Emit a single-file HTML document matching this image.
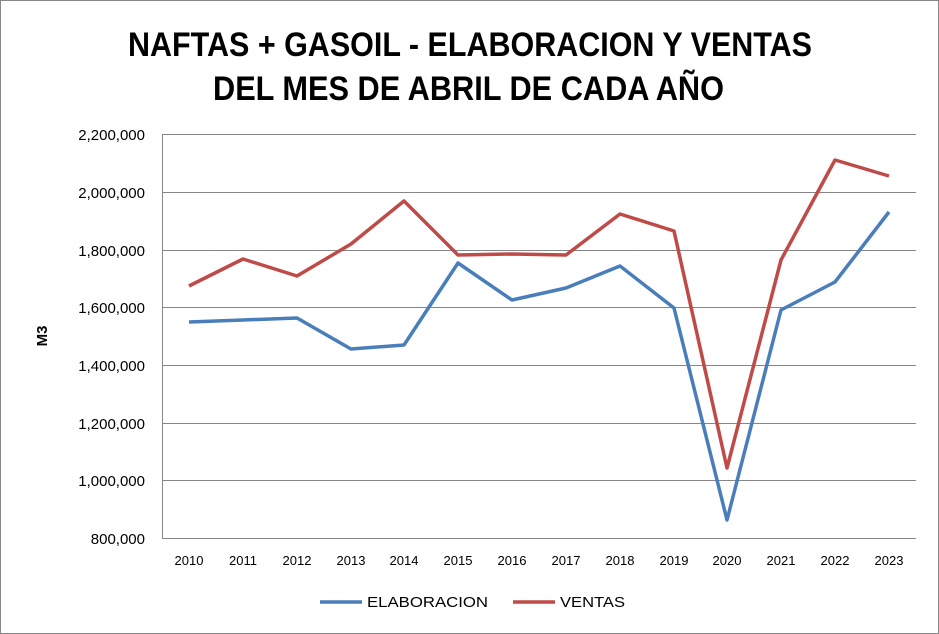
<!DOCTYPE html>
<html><head><meta charset="utf-8"><style>
body{margin:0;background:#fff}
svg{display:block;font-family:"Liberation Sans",sans-serif}
</style></head><body>
<svg width="939" height="634" viewBox="0 0 939 634">
<rect x="0.5" y="0.5" width="938" height="633" fill="#fff" stroke="#878787"/>
<text x="128" y="56" font-size="34" font-weight="bold" textLength="684" lengthAdjust="spacingAndGlyphs">NAFTAS + GASOIL - ELABORACION Y VENTAS</text>
<text x="213" y="100" font-size="34" font-weight="bold" textLength="511" lengthAdjust="spacingAndGlyphs">DEL MES DE ABRIL DE CADA AÑO</text>
<g stroke="#868686" stroke-width="1">
<line x1="162" y1="134.5" x2="916" y2="134.5"/>
<line x1="162" y1="192.5" x2="916" y2="192.5"/>
<line x1="162" y1="250.5" x2="916" y2="250.5"/>
<line x1="162" y1="307.5" x2="916" y2="307.5"/>
<line x1="162" y1="365.5" x2="916" y2="365.5"/>
<line x1="162" y1="423.5" x2="916" y2="423.5"/>
<line x1="162" y1="480.5" x2="916" y2="480.5"/>
<line x1="162" y1="538.5" x2="916" y2="538.5"/>
<line x1="162.5" y1="134" x2="162.5" y2="538"/>
</g>
<g font-size="15" text-anchor="end">
<text x="145" y="140">2,200,000</text>
<text x="145" y="198">2,000,000</text>
<text x="145" y="256">1,800,000</text>
<text x="145" y="313">1,600,000</text>
<text x="145" y="371">1,400,000</text>
<text x="145" y="429">1,200,000</text>
<text x="145" y="486">1,000,000</text>
<text x="145" y="544">800,000</text>
</g>
<text transform="translate(47,336) rotate(-90)" text-anchor="middle" font-size="15" font-weight="bold">M3</text>
<g font-size="13" text-anchor="middle">
<text x="189" y="565">2010</text><text x="243" y="565">2011</text><text x="297" y="565">2012</text><text x="351" y="565">2013</text><text x="404" y="565">2014</text><text x="458" y="565">2015</text><text x="512" y="565">2016</text><text x="566" y="565">2017</text><text x="620" y="565">2018</text><text x="674" y="565">2019</text><text x="727" y="565">2020</text><text x="781" y="565">2021</text><text x="835" y="565">2022</text><text x="889" y="565">2023</text>
</g>
<polyline fill="none" stroke="#4a7ebb" stroke-width="3.5" stroke-linejoin="round" points="189,322 243,320 297,318 351,349 404,345 458,263 512,300 566,288 620,266 674,308 727,520 781,310 835,282 889,212"/>
<polyline fill="none" stroke="#be4b48" stroke-width="3.5" stroke-linejoin="round" points="189,286 243,259 297,276 351,244 404,201 458,255 512,254 566,255 620,214 674,231 727,468 781,260 835,160 889,176"/>
<line x1="320" y1="602" x2="362" y2="602" stroke="#4a7ebb" stroke-width="3.5"/>
<text x="367" y="607" font-size="15" textLength="121" lengthAdjust="spacingAndGlyphs">ELABORACION</text>
<line x1="513" y1="602" x2="555" y2="602" stroke="#be4b48" stroke-width="3.5"/>
<text x="560" y="607" font-size="15" textLength="65" lengthAdjust="spacingAndGlyphs">VENTAS</text>
</svg>
</body></html>
